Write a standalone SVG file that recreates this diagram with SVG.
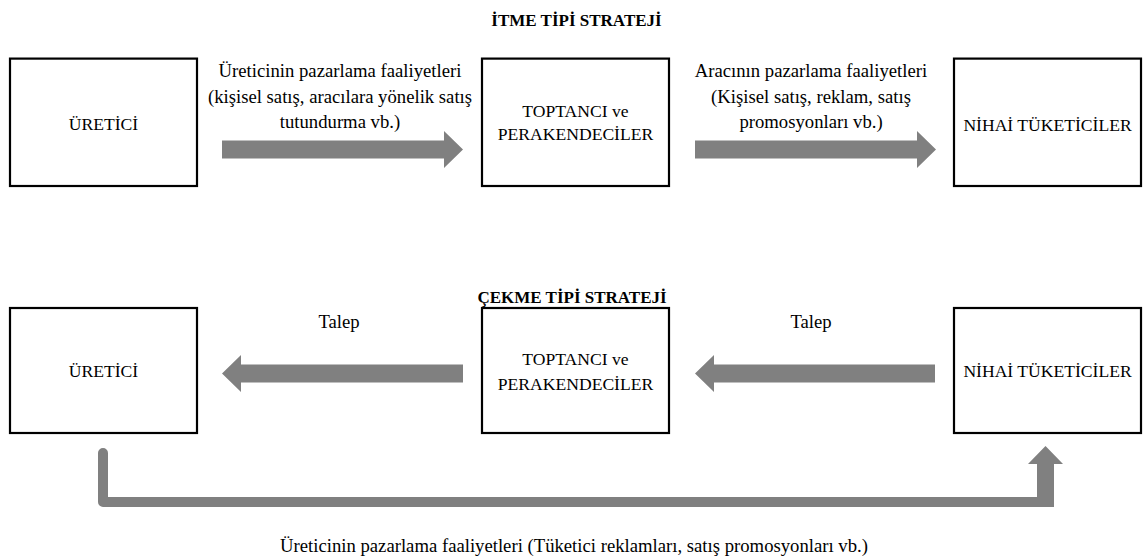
<svg xmlns="http://www.w3.org/2000/svg" width="1143" height="559" viewBox="0 0 1143 559">
  <style>
    .box { fill: #ffffff; stroke: #000000; stroke-width: 2.2; }
    .title { font-family: "Liberation Serif", "Times New Roman", serif; font-size: 17px; font-weight: bold; text-anchor: middle; fill: #000000; }
    .node { font-family: "Liberation Serif", "Times New Roman", serif; font-size: 17.6px; text-anchor: middle; fill: #000000; }
    .label { font-family: "Liberation Serif", "Times New Roman", serif; font-size: 18.7px; text-anchor: middle; fill: #000000; }
    .arrow { fill: #808080; stroke: none; }
    .bar { fill: none; stroke: #808080; stroke-width: 10; stroke-linecap: round; stroke-linejoin: round; }
  </style>

  <rect width="1143" height="559" fill="#ffffff"/>

  <!-- Push strategy -->
  <text class="title" x="576.5" y="26">İTME TİPİ STRATEJİ</text>

  <g id="push-producer">
    <rect class="box" x="10" y="58.6" width="187" height="127.4"/>
    <text class="node" x="103.5" y="129.5">ÜRETİCİ</text>
  </g>
  <g id="push-intermediaries">
    <rect class="box" x="482" y="58.6" width="187" height="127.4"/>
    <text class="node" x="575.5" y="117">TOPTANCI ve</text>
    <text class="node" x="575.5" y="139.5">PERAKENDECİLER</text>
  </g>
  <g id="push-consumers">
    <rect class="box" x="954" y="58.6" width="187" height="127.4"/>
    <text class="node" x="1047.5" y="130.5">NİHAİ TÜKETİCİLER</text>
  </g>

  <!-- Pull strategy -->
  <text class="title" x="572" y="303">ÇEKME TİPİ STRATEJİ</text>

  <g id="pull-producer">
    <rect class="box" x="10" y="308" width="187" height="125"/>
    <text class="node" x="103.5" y="377">ÜRETİCİ</text>
  </g>
  <g id="pull-intermediaries">
    <rect class="box" x="482" y="308" width="187" height="125"/>
    <text class="node" x="575.5" y="365">TOPTANCI ve</text>
    <text class="node" x="575.5" y="389.5">PERAKENDECİLER</text>
  </g>
  <g id="pull-consumers">
    <rect class="box" x="954" y="308" width="187" height="125"/>
    <text class="node" x="1047.5" y="377">NİHAİ TÜKETİCİLER</text>
  </g>

  <g id="connectors">
    <!-- push: producer to intermediaries -->
    <polygon class="arrow" points="222,140.5 444,140.5 444,131 463,149.5 444,168 444,158.5 222,158.5"/>
    <text class="label" x="340" y="77">Üreticinin pazarlama faaliyetleri</text>
    <text class="label" x="340" y="102.5">(kişisel satış, aracılara yönelik satış</text>
    <text class="label" x="340" y="128">tutundurma vb.)</text>

    <!-- push: intermediaries to consumers -->
    <polygon class="arrow" points="695,140.5 917,140.5 917,131 936,149.5 917,168 917,158.5 695,158.5"/>
    <text class="label" x="811" y="77">Aracının pazarlama faaliyetleri</text>
    <text class="label" x="811" y="102.5">(Kişisel satış, reklam, satış</text>
    <text class="label" x="811" y="128">promosyonları vb.)</text>

    <!-- pull: demand from intermediaries to producer -->
    <polygon class="arrow" points="463,364.5 241,364.5 241,355 222,373.5 241,392 241,382.5 463,382.5"/>
    <text class="label" x="339" y="328">Talep</text>

    <!-- pull: demand from consumers to intermediaries -->
    <polygon class="arrow" points="935,364.5 714,364.5 714,355 695,373.5 714,392 714,382.5 935,382.5"/>
    <text class="label" x="811" y="328">Talep</text>

    <!-- pull: producer marketing directly to consumers -->
    <path class="bar" d="M103,453 V502 H1045"/>
    <polygon class="arrow" points="1037,507 1037,464 1028,464 1045.5,446 1063,464 1054,464 1054,507"/>
    <text class="label" x="574" y="552">Üreticinin pazarlama faaliyetleri (Tüketici reklamları, satış promosyonları vb.)</text>
  </g>
</svg>
